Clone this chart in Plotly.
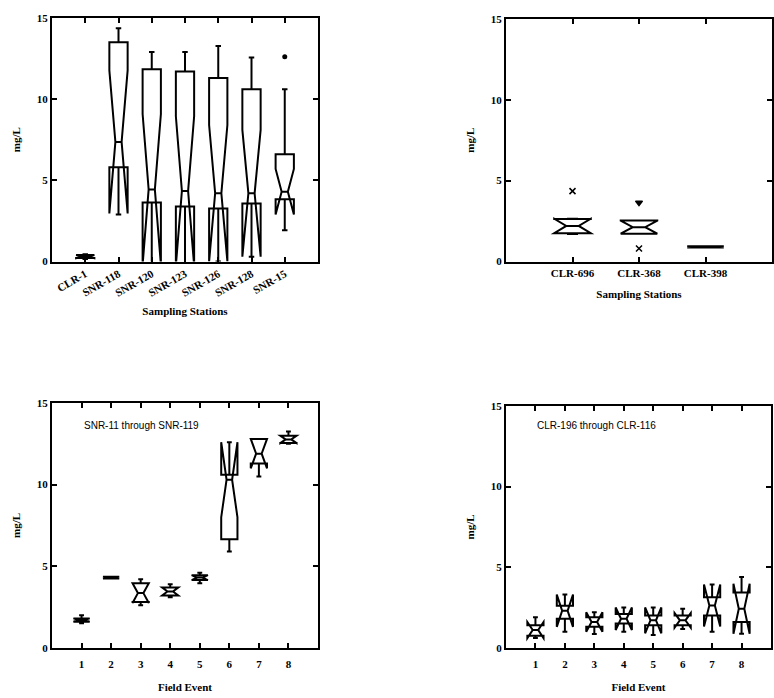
import plotly.graph_objects as go
from plotly.subplots import make_subplots

# ---- Stations (top row) ----
snr_stations = ["CLR-1", "SNR-118", "SNR-120", "SNR-123", "SNR-126", "SNR-128", "SNR-15"]
snr_q1 = [0.22, 5.8, 3.63, 3.39, 3.27, 3.57, 3.83]
snr_med = [0.3, 7.36, 4.44, 4.34, 4.2, 4.2, 4.3]
snr_q3 = [0.4, 13.5, 11.83, 11.7, 11.3, 10.6, 6.6]
snr_lo = [0.15, 2.9, 1.6, 1.8, 1.67, 1.67, 1.92]
snr_hi = [0.45, 14.35, 12.9, 12.9, 13.27, 12.56, 10.6]
snr_notch = [0.1, 4.4, 4.64, 4.6, 4.2, 3.9, 1.4]
snr_out_x = [7]
snr_out_y = [12.6]

clr_stations = ["CLR-696", "CLR-368", "CLR-398"]
clr_q1 = [1.75, 1.72, 0.86]
clr_med = [2.2, 2.12, 0.9]
clr_q3 = [2.63, 2.53, 0.94]
clr_lo = [1.7, 1.72, 0.86]
clr_hi = [2.63, 2.53, 0.94]
clr_notch = [0.45, 0.4, 0.04]
clr_out_x = [1, 2, 2]
clr_out_y = [4.35, 3.64, 0.81]
clr_out_sym = ["x-thin", "triangle-down", "x-thin"]

# ---- Field events (bottom row) ----
events = ["1", "2", "3", "4", "5", "6", "7", "8"]
ev_snr_q1 = [1.6, 4.25, 2.8, 3.2, 4.15, 6.65, 11.3, 12.55]
ev_snr_med = [1.7, 4.3, 3.35, 3.45, 4.3, 10.3, 11.9, 12.77]
ev_snr_q3 = [1.8, 4.35, 3.95, 3.7, 4.45, 10.6, 12.8, 13.0]
ev_snr_lo = [1.5, 4.25, 2.6, 3.1, 3.95, 5.9, 10.5, 12.5]
ev_snr_hi = [2.0, 4.35, 4.2, 3.9, 4.6, 10.6, 12.8, 13.25]
ev_snr_notch = [0.1, 0.05, 0.6, 0.25, 0.15, 2.3, 0.9, 0.23]

ev_clr_q1 = [0.75, 1.8, 1.3, 1.5, 1.4, 1.4, 2.0, 1.6]
ev_clr_med = [1.1, 2.3, 1.6, 1.8, 1.7, 1.7, 2.62, 2.42]
ev_clr_q3 = [1.4, 2.6, 1.9, 2.1, 2.0, 2.0, 3.13, 3.43]
ev_clr_lo = [0.6, 1.0, 0.85, 1.0, 0.8, 1.16, 1.0, 0.9]
ev_clr_hi = [1.9, 2.6, 1.9, 2.1, 2.0, 2.42, 3.13, 4.39]
ev_clr_notch = [0.5, 1.0, 0.6, 0.7, 0.8, 0.45, 1.3, 1.55]

y_ticks = [0, 5, 10, 15]

W, H = 774, 698


def px_x(a, b):
    return [a / W, b / W]


def px_y(top, bottom):
    return [1 - bottom / H, 1 - top / H]


fig = make_subplots(rows=2, cols=2)

BOX_STYLE = dict(
    notched=True,
    notchwidth=0.33,
    whiskerwidth=0.3,
    width=0.55,
    boxpoints=False,
    line=dict(color="black", width=2),
    fillcolor="rgba(0,0,0,0)",
    showlegend=False,
    hoverinfo="skip",
)


def add_boxes(row, col, n, q1, med, q3, lo, hi, notch):
    fig.add_trace(
        go.Box(
            x=list(range(1, n + 1)),
            q1=q1, median=med, q3=q3,
            lowerfence=lo, upperfence=hi,
            notchspan=notch,
            **BOX_STYLE,
        ),
        row=row, col=col,
    )


add_boxes(1, 1, len(snr_stations), snr_q1, snr_med, snr_q3, snr_lo, snr_hi, snr_notch)
add_boxes(1, 2, len(clr_stations), clr_q1, clr_med, clr_q3, clr_lo, clr_hi, clr_notch)
add_boxes(2, 1, len(events), ev_snr_q1, ev_snr_med, ev_snr_q3, ev_snr_lo, ev_snr_hi, ev_snr_notch)
add_boxes(2, 2, len(events), ev_clr_q1, ev_clr_med, ev_clr_q3, ev_clr_lo, ev_clr_hi, ev_clr_notch)

fig.add_trace(
    go.Scatter(x=snr_out_x, y=snr_out_y, mode="markers",
               marker=dict(symbol="circle", size=5, color="black"),
               showlegend=False, hoverinfo="skip"),
    row=1, col=1,
)
fig.add_trace(
    go.Scatter(x=clr_out_x, y=clr_out_y, mode="markers",
               marker=dict(symbol=clr_out_sym, size=6, color="black",
                           line=dict(color="black", width=1.5)),
               showlegend=False, hoverinfo="skip"),
    row=1, col=2,
)

TICK_FONT = dict(family="Liberation Serif", size=11, color="black", weight="bold")
TITLE_FONT = dict(family="Liberation Serif", size=11, color="black", weight="bold")

AX_COMMON = dict(
    showline=True, linewidth=2, linecolor="black", mirror="allticks",
    ticks="inside", ticklen=5, tickwidth=1.5, tickcolor="black",
    showgrid=False, zeroline=False, tickfont=TICK_FONT,
)

domains = {
    (1, 1): (px_x(52, 318), px_y(12, 260)),
    (1, 2): (px_x(506, 772), px_y(13, 260)),
    (2, 1): (px_x(52, 318), px_y(404, 653)),
    (2, 2): (px_x(506, 771), px_y(407, 653)),
}
x_labels = {
    (1, 1): snr_stations,
    (1, 2): clr_stations,
    (2, 1): events,
    (2, 2): events,
}
x_titles = {
    (1, 1): "Sampling Stations",
    (1, 2): "Sampling Stations",
    (2, 1): "Field Event",
    (2, 2): "Field Event",
}
x_label_gap = {(1, 1): 0, (1, 2): 0, (2, 1): 5, (2, 2): 5}
x_title_gap = {(1, 1): 9, (1, 2): 13, (2, 1): 14, (2, 2): 14}

for (r, c), (dx, dy) in domains.items():
    labels = x_labels[(r, c)]
    n = len(labels)
    fig.update_xaxes(
        domain=dx, range=[0, n + 1],
        tickvals=list(range(1, n + 1)), ticktext=labels,
        tickangle=-30 if (r, c) == (1, 1) else 0,
        ticklabelstandoff=x_label_gap[(r, c)],
        title=dict(text=x_titles[(r, c)], font=TITLE_FONT, standoff=x_title_gap[(r, c)]),
        row=r, col=c, **AX_COMMON,
    )
    fig.update_yaxes(
        domain=dy, range=[0, 15], tickvals=y_ticks,
        ticktext=[str(v) for v in y_ticks],
        title=dict(text="mg/L", font=TITLE_FONT, standoff=14),
        row=r, col=c, **AX_COMMON,
    )

fig.add_annotation(
    text="SNR-11 through SNR-119", xref="x3", yref="y3", x=1.0, y=13.6,
    xanchor="left", yanchor="middle", showarrow=False,
    font=dict(family="Liberation Sans", size=10, color="black"),
)
fig.add_annotation(
    text="CLR-196 through CLR-116", xref="x4", yref="y4", x=1.0, y=13.8,
    xanchor="left", yanchor="middle", showarrow=False,
    font=dict(family="Liberation Sans", size=10, color="black"),
)

fig.update_layout(
    width=W, height=H,
    margin=dict(l=0, r=0, t=0, b=0),
    paper_bgcolor="white", plot_bgcolor="white",
    showlegend=False,
)

fig.write_html("out.html")
